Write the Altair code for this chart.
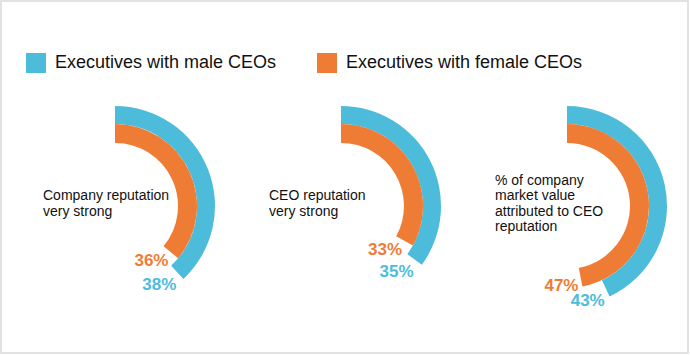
import altair as alt
import pandas as pd
import math

# ---- data ----
categories = [
    ["Company reputation", "very strong"],
    ["CEO reputation", "very strong"],
    ["% of company", "market value", "attributed to CEO", "reputation"],
]
series_names = ["Executives with male CEOs", "Executives with female CEOs"]
male_pct = [38, 35, 43]
female_pct = [36, 33, 47]

BLUE = "#4DBCDB"
ORANGE = "#EF7C35"
FONT = "Liberation Sans"

rows = []
for i in range(len(categories)):
    rows.append({"panel": i, "series": series_names[0], "pct": male_pct[i]})
    rows.append({"panel": i, "series": series_names[1], "pct": female_pct[i]})
df = pd.DataFrame(rows)
df["label"] = df["pct"].astype(str) + "%"

line_rows = []
for i, lines in enumerate(categories):
    n = len(lines)
    for j, ln in enumerate(lines):
        line_rows.append({"panel": i, "text": ln, "lineoff": j - (n - 1) / 2})
cat_df = pd.DataFrame(line_rows)

panels = list(range(len(categories)))
x_enc = alt.X("panel:O", scale=alt.Scale(type="point", domain=panels, range=[114, 566], padding=0), axis=None)
y_center = alt.value(205)
theta_scale = alt.Scale(domain=[0, 100], range=[0, 2 * math.pi])
color_enc = alt.Color(
    "series:N",
    scale=alt.Scale(domain=series_names, range=[BLUE, ORANGE]),
    legend=alt.Legend(
        title=None, orient="none", legendX=25, legendY=52, direction="horizontal",
        symbolType="square", symbolSize=400, symbolStrokeWidth=0, symbolOpacity=1,
        labelFontSize=18, labelFont=FONT, labelColor="#111111", labelOffset=9,
        labelLimit=0, columnPadding=40, padding=0,
    ),
)

base = alt.Chart(df).transform_calculate(zero="0")

arc_male = base.transform_filter(alt.datum.series == series_names[0]).mark_arc(stroke=None).encode(
    x=x_enc, y=y_center,
    theta=alt.Theta("zero:Q", scale=theta_scale),
    theta2="pct:Q",
    radius=alt.value(100), radius2=alt.value(82),
    color=color_enc,
)
arc_female = base.transform_filter(alt.datum.series == series_names[1]).mark_arc(stroke=None).encode(
    x=x_enc, y=y_center,
    theta=alt.Theta("zero:Q", scale=theta_scale),
    theta2="pct:Q",
    radius=alt.value(82), radius2=alt.value(63),
    color=color_enc,
)

lbl_male = base.transform_filter(alt.datum.series == series_names[0]).mark_text(
    font=FONT, fontSize=17, fontWeight="bold", align="right", baseline="middle", dx=-1, dy=13,
    color=BLUE,
).encode(
    x=x_enc, y=y_center,
    theta=alt.Theta("pct:Q", scale=theta_scale, stack=False),
    radius=alt.value(91),
    text="label:N",
)
lbl_female = base.transform_filter(alt.datum.series == series_names[1]).mark_text(
    font=FONT, fontSize=17, fontWeight="bold", align="right", baseline="middle", dx=-2, dy=9,
    color=ORANGE,
).encode(
    x=x_enc, y=y_center,
    theta=alt.Theta("pct:Q", scale=theta_scale, stack=False),
    radius=alt.value(72),
    text="label:N",
)

cat_text = alt.Chart(cat_df).mark_text(
    font=FONT, fontSize=14, align="left", baseline="middle", dx=-72, color="#111111",
).encode(
    x=x_enc,
    y=alt.Y("lineoff:Q", scale=alt.Scale(domain=[-2, 2], range=[172, 234]), axis=None),
    text="text:N",
)

chart = alt.layer(arc_male, arc_female, lbl_male, lbl_female, cat_text).properties(
    width=687, height=352,
    padding={"left": 1, "top": 1, "right": 2, "bottom": 2},
    autosize=alt.AutoSizeParams(type="none"),
    background="white",
).configure_view(stroke="#d9d9d9", strokeWidth=1.5)

chart.save("out.html", embed_options={"renderer": "svg", "actions": False})
